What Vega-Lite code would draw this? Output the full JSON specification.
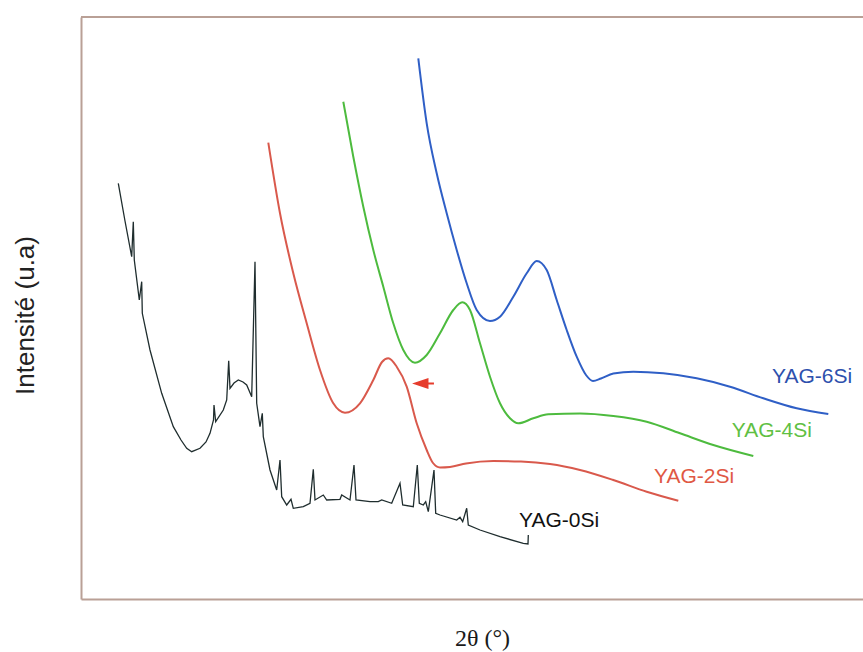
{
  "$schema": "https://vega.github.io/schema/vega-lite/v6.json",
  "autosize": "none",
  "width": 782,
  "height": 582,
  "padding": {"left": 81, "top": 17, "right": 0, "bottom": 53},
  "background": "white",
  "config": {"view": {"stroke": null}, "font": "Liberation Sans"},
  "datasets": {
    "curves": [
      {"series": "YAG-0Si", "x": 3.73, "y": 415.7},
      {"series": "YAG-0Si", "x": 4.4, "y": 378},
      {"series": "YAG-0Si", "x": 5.07, "y": 342.3},
      {"series": "YAG-0Si", "x": 5.23, "y": 377.3},
      {"series": "YAG-0Si", "x": 5.33, "y": 339},
      {"series": "YAG-0Si", "x": 5.83, "y": 299},
      {"series": "YAG-0Si", "x": 6.07, "y": 317.3},
      {"series": "YAG-0Si", "x": 6.13, "y": 285.7},
      {"series": "YAG-0Si", "x": 6.9, "y": 249},
      {"series": "YAG-0Si", "x": 8.07, "y": 205.7},
      {"series": "YAG-0Si", "x": 9.23, "y": 172.3},
      {"series": "YAG-0Si", "x": 10.0, "y": 159},
      {"series": "YAG-0Si", "x": 10.57, "y": 150.7},
      {"series": "YAG-0Si", "x": 11.07, "y": 147.3},
      {"series": "YAG-0Si", "x": 11.9, "y": 150.7},
      {"series": "YAG-0Si", "x": 12.5, "y": 157},
      {"series": "YAG-0Si", "x": 12.9, "y": 165.7},
      {"series": "YAG-0Si", "x": 13.25, "y": 179},
      {"series": "YAG-0Si", "x": 13.3, "y": 194},
      {"series": "YAG-0Si", "x": 13.47, "y": 177.3},
      {"series": "YAG-0Si", "x": 14.23, "y": 189},
      {"series": "YAG-0Si", "x": 14.57, "y": 199},
      {"series": "YAG-0Si", "x": 14.77, "y": 238.3},
      {"series": "YAG-0Si", "x": 14.9, "y": 210.7},
      {"series": "YAG-0Si", "x": 15.3, "y": 216},
      {"series": "YAG-0Si", "x": 15.73, "y": 219},
      {"series": "YAG-0Si", "x": 16.2, "y": 217},
      {"series": "YAG-0Si", "x": 16.57, "y": 214},
      {"series": "YAG-0Si", "x": 17.07, "y": 202.3},
      {"series": "YAG-0Si", "x": 17.4, "y": 337.3},
      {"series": "YAG-0Si", "x": 17.57, "y": 195.7},
      {"series": "YAG-0Si", "x": 17.9, "y": 172.3},
      {"series": "YAG-0Si", "x": 18.13, "y": 185.7},
      {"series": "YAG-0Si", "x": 18.23, "y": 162.3},
      {"series": "YAG-0Si", "x": 18.9, "y": 129},
      {"series": "YAG-0Si", "x": 19.57, "y": 109},
      {"series": "YAG-0Si", "x": 19.9, "y": 139},
      {"series": "YAG-0Si", "x": 20.07, "y": 102.3},
      {"series": "YAG-0Si", "x": 20.57, "y": 94},
      {"series": "YAG-0Si", "x": 21.0, "y": 99.7},
      {"series": "YAG-0Si", "x": 21.23, "y": 90.7},
      {"series": "YAG-0Si", "x": 22.23, "y": 92.3},
      {"series": "YAG-0Si", "x": 22.9, "y": 95.7},
      {"series": "YAG-0Si", "x": 23.23, "y": 129.7},
      {"series": "YAG-0Si", "x": 23.4, "y": 99},
      {"series": "YAG-0Si", "x": 24.23, "y": 104},
      {"series": "YAG-0Si", "x": 24.57, "y": 99},
      {"series": "YAG-0Si", "x": 25.9, "y": 99.7},
      {"series": "YAG-0Si", "x": 26.07, "y": 104},
      {"series": "YAG-0Si", "x": 26.9, "y": 99},
      {"series": "YAG-0Si", "x": 27.3, "y": 134},
      {"series": "YAG-0Si", "x": 27.5, "y": 99},
      {"series": "YAG-0Si", "x": 28.9, "y": 97.3},
      {"series": "YAG-0Si", "x": 29.73, "y": 97.3},
      {"series": "YAG-0Si", "x": 30.07, "y": 99},
      {"series": "YAG-0Si", "x": 31.07, "y": 95.7},
      {"series": "YAG-0Si", "x": 31.9, "y": 115.7},
      {"series": "YAG-0Si", "x": 32.17, "y": 94},
      {"series": "YAG-0Si", "x": 33.23, "y": 92.3},
      {"series": "YAG-0Si", "x": 33.63, "y": 134},
      {"series": "YAG-0Si", "x": 33.83, "y": 95.7},
      {"series": "YAG-0Si", "x": 34.23, "y": 94},
      {"series": "YAG-0Si", "x": 34.47, "y": 97.3},
      {"series": "YAG-0Si", "x": 34.73, "y": 87.3},
      {"series": "YAG-0Si", "x": 35.3, "y": 129},
      {"series": "YAG-0Si", "x": 35.47, "y": 85.7},
      {"series": "YAG-0Si", "x": 35.9, "y": 84},
      {"series": "YAG-0Si", "x": 37.57, "y": 79},
      {"series": "YAG-0Si", "x": 37.9, "y": 81.7},
      {"series": "YAG-0Si", "x": 38.17, "y": 77.3},
      {"series": "YAG-0Si", "x": 38.57, "y": 90.7},
      {"series": "YAG-0Si", "x": 38.73, "y": 74},
      {"series": "YAG-0Si", "x": 39.9, "y": 69},
      {"series": "YAG-0Si", "x": 41.9, "y": 62.3},
      {"series": "YAG-0Si", "x": 44.23, "y": 55.7},
      {"series": "YAG-0Si", "x": 44.7, "y": 55},
      {"series": "YAG-0Si", "x": 44.73, "y": 64},

      {"series": "YAG-2Si", "x": 18.73, "y": 456.3},
      {"series": "YAG-2Si", "x": 19.9, "y": 385.7},
      {"series": "YAG-2Si", "x": 21.23, "y": 325.7},
      {"series": "YAG-2Si", "x": 22.57, "y": 275.7},
      {"series": "YAG-2Si", "x": 23.9, "y": 229},
      {"series": "YAG-2Si", "x": 25.23, "y": 195.7},
      {"series": "YAG-2Si", "x": 26.4, "y": 186.3},
      {"series": "YAG-2Si", "x": 27.9, "y": 195.7},
      {"series": "YAG-2Si", "x": 29.23, "y": 219},
      {"series": "YAG-2Si", "x": 30.1, "y": 237},
      {"series": "YAG-2Si", "x": 30.73, "y": 240.7},
      {"series": "YAG-2Si", "x": 31.57, "y": 232.3},
      {"series": "YAG-2Si", "x": 32.57, "y": 212.3},
      {"series": "YAG-2Si", "x": 33.57, "y": 175.7},
      {"series": "YAG-2Si", "x": 34.57, "y": 149},
      {"series": "YAG-2Si", "x": 35.2, "y": 136},
      {"series": "YAG-2Si", "x": 35.9, "y": 131.5},
      {"series": "YAG-2Si", "x": 36.9, "y": 132},
      {"series": "YAG-2Si", "x": 38.5, "y": 135.5},
      {"series": "YAG-2Si", "x": 41.23, "y": 138},
      {"series": "YAG-2Si", "x": 44.0, "y": 137.5},
      {"series": "YAG-2Si", "x": 46.9, "y": 135},
      {"series": "YAG-2Si", "x": 49.9, "y": 129},
      {"series": "YAG-2Si", "x": 53.23, "y": 119},
      {"series": "YAG-2Si", "x": 56.57, "y": 107.3},
      {"series": "YAG-2Si", "x": 59.73, "y": 98.3},

      {"series": "YAG-4Si", "x": 26.23, "y": 497.3},
      {"series": "YAG-4Si", "x": 27.23, "y": 442.3},
      {"series": "YAG-4Si", "x": 28.23, "y": 392.3},
      {"series": "YAG-4Si", "x": 29.23, "y": 349},
      {"series": "YAG-4Si", "x": 30.23, "y": 312.3},
      {"series": "YAG-4Si", "x": 31.23, "y": 275.7},
      {"series": "YAG-4Si", "x": 32.23, "y": 249},
      {"series": "YAG-4Si", "x": 33.4, "y": 236.3},
      {"series": "YAG-4Si", "x": 34.57, "y": 244},
      {"series": "YAG-4Si", "x": 35.9, "y": 265.7},
      {"series": "YAG-4Si", "x": 37.23, "y": 289},
      {"series": "YAG-4Si", "x": 38.13, "y": 296.7},
      {"series": "YAG-4Si", "x": 38.9, "y": 289},
      {"series": "YAG-4Si", "x": 39.9, "y": 255.7},
      {"series": "YAG-4Si", "x": 40.9, "y": 222.3},
      {"series": "YAG-4Si", "x": 41.9, "y": 195.7},
      {"series": "YAG-4Si", "x": 42.9, "y": 180.7},
      {"series": "YAG-4Si", "x": 43.73, "y": 175.7},
      {"series": "YAG-4Si", "x": 45.23, "y": 180.7},
      {"series": "YAG-4Si", "x": 46.73, "y": 184.7},
      {"series": "YAG-4Si", "x": 49.9, "y": 185.5},
      {"series": "YAG-4Si", "x": 53.23, "y": 183},
      {"series": "YAG-4Si", "x": 56.57, "y": 177.3},
      {"series": "YAG-4Si", "x": 59.9, "y": 165.7},
      {"series": "YAG-4Si", "x": 63.23, "y": 154},
      {"series": "YAG-4Si", "x": 67.23, "y": 143},

      {"series": "YAG-6Si", "x": 33.73, "y": 540.7},
      {"series": "YAG-6Si", "x": 34.57, "y": 475.7},
      {"series": "YAG-6Si", "x": 35.57, "y": 425.7},
      {"series": "YAG-6Si", "x": 36.57, "y": 385.7},
      {"series": "YAG-6Si", "x": 37.57, "y": 349},
      {"series": "YAG-6Si", "x": 38.57, "y": 315.7},
      {"series": "YAG-6Si", "x": 39.57, "y": 289},
      {"series": "YAG-6Si", "x": 40.9, "y": 278},
      {"series": "YAG-6Si", "x": 41.9, "y": 282.3},
      {"series": "YAG-6Si", "x": 43.23, "y": 302.3},
      {"series": "YAG-6Si", "x": 44.57, "y": 325.7},
      {"series": "YAG-6Si", "x": 45.57, "y": 338},
      {"series": "YAG-6Si", "x": 46.57, "y": 329},
      {"series": "YAG-6Si", "x": 47.57, "y": 299},
      {"series": "YAG-6Si", "x": 48.57, "y": 269},
      {"series": "YAG-6Si", "x": 49.57, "y": 242.3},
      {"series": "YAG-6Si", "x": 50.5, "y": 224},
      {"series": "YAG-6Si", "x": 51.2, "y": 218},
      {"series": "YAG-6Si", "x": 52.0, "y": 220.5},
      {"series": "YAG-6Si", "x": 53.23, "y": 225.5},
      {"series": "YAG-6Si", "x": 55.23, "y": 227.3},
      {"series": "YAG-6Si", "x": 58.23, "y": 225.7},
      {"series": "YAG-6Si", "x": 61.57, "y": 220.7},
      {"series": "YAG-6Si", "x": 64.9, "y": 212.3},
      {"series": "YAG-6Si", "x": 68.23, "y": 200.7},
      {"series": "YAG-6Si", "x": 71.57, "y": 190.7},
      {"series": "YAG-6Si", "x": 74.73, "y": 185}
    ],
    "labels": [
      {"series": "YAG-0Si", "x": 43.8, "y": 72},
      {"series": "YAG-2Si", "x": 57.3, "y": 116},
      {"series": "YAG-4Si", "x": 65.07, "y": 162},
      {"series": "YAG-6Si", "x": 69.1, "y": 216}
    ],
    "arrow": [
      {"x": 34.2, "y": 215.5}
    ],
    "frame": [
      {"y": 582}
    ]
  },
  "layer": [
    {
      "data": {"name": "curves"},
      "transform": [{"filter": "datum.series !== 'YAG-0Si'"}],
      "mark": {"type": "line", "interpolate": "monotone", "strokeWidth": 2},
      "encoding": {
        "x": {
          "field": "x", "type": "quantitative",
          "scale": {"domain": [0, 78.2], "nice": false, "zero": false},
          "axis": {"title": "2θ (°)", "titleFont": "Liberation Serif", "titleFontSize": 24, "titleFontWeight": "normal", "titleColor": "#1a1a1a", "titleBaseline": "alphabetic", "titleAlign": "center", "titleX": 401, "titleY": 46, "labels": false, "ticks": false, "grid": false, "domain": true, "domainColor": "#b9a096", "domainWidth": 2}
        },
        "y": {
          "field": "y", "type": "quantitative",
          "scale": {"domain": [0, 582], "nice": false, "zero": false},
          "axis": {"title": "Intensité  (u.a)", "titleFont": "Liberation Sans", "titleFontSize": 26, "titleFontWeight": "normal", "titleColor": "#222222", "titleBaseline": "alphabetic", "titleAlign": "center", "titleAngle": -90, "titleX": -48, "titleY": 298, "labels": false, "ticks": false, "grid": false, "domain": true, "domainColor": "#b9a096", "domainWidth": 2}
        },
        "color": {
          "field": "series", "type": "nominal",
          "scale": {"domain": ["YAG-2Si", "YAG-4Si", "YAG-6Si"], "range": ["#d9594c", "#4dbb3e", "#2f5fc6"]},
          "legend": null
        }
      }
    },
    {
      "data": {"name": "curves"},
      "transform": [{"filter": "datum.series === 'YAG-0Si'"}],
      "mark": {"type": "line", "interpolate": "linear", "strokeWidth": 1.3, "color": "#1f2d2e"},
      "encoding": {
        "x": {"field": "x", "type": "quantitative"},
        "y": {"field": "y", "type": "quantitative"}
      }
    },
    {
      "data": {"name": "frame"},
      "mark": {"type": "rule", "color": "#b9a096", "strokeWidth": 2},
      "encoding": {"y": {"field": "y", "type": "quantitative"}}
    },
    {
      "data": {"name": "arrow"},
      "mark": {"type": "point", "shape": "M-1,0L0.5,-0.5L0.5,0.5Z M0.5,-0.1L1,-0.1L1,0.1L0.5,0.1Z", "filled": true, "size": 480, "color": "#e63c2c", "opacity": 1, "strokeWidth": 0},
      "encoding": {
        "x": {"field": "x", "type": "quantitative"},
        "y": {"field": "y", "type": "quantitative"}
      }
    },
    {
      "data": {"name": "labels"},
      "mark": {"type": "text", "align": "left", "baseline": "alphabetic", "fontSize": 21, "font": "Liberation Sans"},
      "encoding": {
        "x": {"field": "x", "type": "quantitative"},
        "y": {"field": "y", "type": "quantitative"},
        "text": {"field": "series"},
        "color": {
          "field": "series", "type": "nominal",
          "scale": {"domain": ["YAG-0Si", "YAG-2Si", "YAG-4Si", "YAG-6Si"], "range": ["#111111", "#e05844", "#5fc043", "#2d50ad"]},
          "legend": null
        }
      }
    }
  ],
  "resolve": {"scale": {"color": "independent"}}
}
